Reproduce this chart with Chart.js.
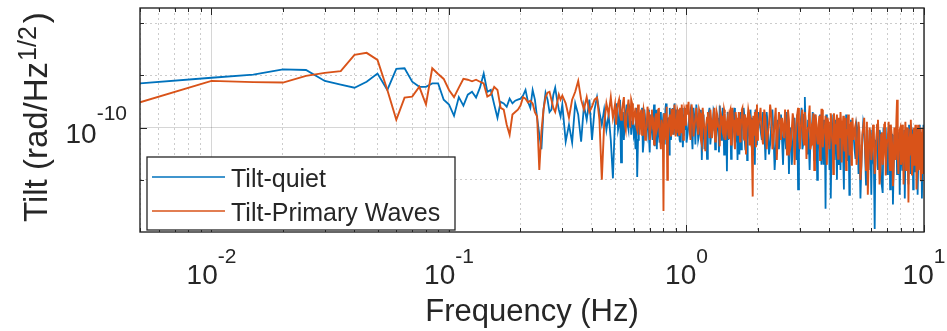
<!DOCTYPE html>
<html>
<head>
<meta charset="utf-8">
<script src="https://cdn.jsdelivr.net/npm/chart.js@4.4.0/dist/chart.umd.min.js"></script>
<style>
  html, body { margin: 0; padding: 0; background: #ffffff; }
  #wrap { width: 947px; height: 331px; position: relative; }
</style>
</head>
<body>
<div id="wrap"><canvas id="c" width="947" height="331"></canvas></div>
<script>
// ---------------- DATA ----------------
const seriesNames = ['Tilt-quiet', 'Tilt-Primary Waves'];
const valueUnit = 1e-12; // series values below are in 1e-12 rad/Hz^(1/2)

// frequency bins (Hz), in bands
const freqLow = [0.005,0.01,0.015,0.02,0.025,0.03,0.035,0.04,0.045,0.05,
  0.055,0.06,0.065,0.07,0.075,0.08,0.085,0.09,0.095,0.1,
  0.105,0.11,0.115,0.12,0.125,0.13,0.135,0.14,0.145,0.15,
  0.155,0.16,0.165,0.17,0.175,0.18,0.185,0.19,0.195,0.2,
  0.205,0.21,0.215,0.22,0.225,0.23,0.235,0.24,0.245,0.25,
  0.255,0.26,0.265,0.27,0.275,0.28,0.285,0.29,0.295,0.3];
const freqMid = [0.31,0.32,0.33,0.34,0.35,0.36,0.37,0.38,0.39,0.40,
  0.41,0.42,0.43,0.44,0.45,0.46,0.47,0.48,0.49,0.50,
  0.51,0.52,0.53,0.54,0.55,0.56,0.57,0.58,0.59,0.60,
  0.61,0.62,0.63,0.64,0.65,0.66,0.67,0.68,0.69,0.70,
  0.71,0.72,0.73,0.74,0.75,0.76,0.77,0.78,0.79,0.80,
  0.81,0.82,0.83,0.84,0.85,0.86,0.87,0.88,0.89,0.90,
  0.91,0.92,0.93,0.94,0.95,0.96,0.97,0.98,0.99,1.00];
const freqMidHalf = [0.505,0.515,0.525,0.535,0.545,0.555,0.565,0.575,0.585,0.595,
  0.605,0.615,0.625,0.635,0.645,0.655,0.665,0.675,0.685,0.695,
  0.705,0.715,0.725,0.735,0.745,0.755,0.765,0.775,0.785,0.795,
  0.805,0.815,0.825,0.835,0.845,0.855,0.865,0.875,0.885,0.895,
  0.905,0.915,0.925,0.935,0.945,0.955,0.965,0.975,0.985,0.995];
const freqOne = [1.02,1.04,1.06,1.08,1.10,1.12,1.14,1.16,1.18,1.20,
  1.22,1.24,1.26,1.28,1.30,1.32,1.34,1.36,1.38,1.40,
  1.42,1.44,1.46,1.48,1.50,1.52,1.54,1.56,1.58,1.60,
  1.62,1.64,1.66,1.68,1.70,1.72,1.74,1.76,1.78,1.80,
  1.82,1.84,1.86,1.88,1.90,1.92,1.94,1.96,1.98,2.00];
const freqOneHalf = [1.01,1.03,1.05,1.07,1.09,1.11,1.13,1.15,1.17,1.19,
  1.21,1.23,1.25,1.27,1.29,1.31,1.33,1.35,1.37,1.39,
  1.41,1.43,1.45,1.47,1.49,1.51,1.53,1.55,1.57,1.59,
  1.61,1.63,1.65,1.67,1.69,1.71,1.73,1.75,1.77,1.79,
  1.81,1.83,1.85,1.87,1.89,1.91,1.93,1.95,1.97,1.99];
const freqTwo = [2.05,2.10,2.15,2.20,2.25,2.30,2.35,2.40,2.45,2.50,
  2.55,2.60,2.65,2.70,2.75,2.80,2.85,2.90,2.95,3.00,
  3.05,3.10,3.15,3.20,3.25,3.30,3.35,3.40,3.45,3.50,
  3.55,3.60,3.65,3.70,3.75,3.80,3.85,3.90,3.95,4.00,
  4.05,4.10,4.15,4.20,4.25,4.30,4.35,4.40,4.45,4.50,
  4.55,4.60,4.65,4.70,4.75,4.80,4.85,4.90,4.95,5.00];
const freqTwoHalf = [2.025,2.075,2.125,2.175,2.225,2.275,2.325,2.375,2.425,2.475,
  2.525,2.575,2.625,2.675,2.725,2.775,2.825,2.875,2.925,2.975,
  3.025,3.075,3.125,3.175,3.225,3.275,3.325,3.375,3.425,3.475,
  3.525,3.575,3.625,3.675,3.725,3.775,3.825,3.875,3.925,3.975,
  4.025,4.075,4.125,4.175,4.225,4.275,4.325,4.375,4.425,4.475,
  4.525,4.575,4.625,4.675,4.725,4.775,4.825,4.875,4.925,4.975];
const freqFive = [5.1,5.2,5.3,5.4,5.5,5.6,5.7,5.8,5.9,6.0,
  6.1,6.2,6.3,6.4,6.5,6.6,6.7,6.8,6.9,7.0,
  7.1,7.2,7.3,7.4,7.5,7.6,7.7,7.8,7.9,8.0,
  8.1,8.2,8.3,8.4,8.5,8.6,8.7,8.8,8.9,9.0,
  9.1,9.2,9.3,9.4,9.5,9.6,9.7,9.8,9.9,10.0];
const freqFiveHalf = [5.05,5.15,5.25,5.35,5.45,5.55,5.65,5.75,5.85,5.95,
  6.05,6.15,6.25,6.35,6.45,6.55,6.65,6.75,6.85,6.95,
  7.05,7.15,7.25,7.35,7.45,7.55,7.65,7.75,7.85,7.95,
  8.05,8.15,8.25,8.35,8.45,8.55,8.65,8.75,8.85,8.95,
  9.05,9.15,9.25,9.35,9.45,9.55,9.65,9.75,9.85,9.95];

// Tilt-quiet
const quietLow = [180,194,202,217,215,186,177,170,184,205,
  165,218,220,184,172,172,180,180,145,136,
  117,150,134,155,161,149,170,205,161,165,
  136,114,141,138,132,147,138,143,145,147,
  153,165,141,130,165,145,114,91,75,127,
  159,145,123,127,155,170,145,127,116,136];
const quietMid = [83,104,82,138,119,83,134,111,145,85,
  127,150,123,104,127,97,119,85,51,111,
  138,104,63,123,116,136,97,127,108,91,
  75,52,119,101,130,82,111,91,127,72,
  104,85,136,111,75,111,82,123,97,121,
  80,138,104,89,130,85,119,101,138,97,
  114,89,127,83,111,130,91,101,123,82];
const quietMidHalf = [127,97,145,108,85,123,104,132,91,119,
  97,130,85,119,104,72,127,97,114,89,
  119,94,111,78,127,101,91,119,85,108,
  101,127,89,114,70,119,97,130,91,111,
  127,97,114,85,123,104,77,119,97,130];
const quietOne = [104,127,75,114,136,85,101,65,119,91,
  66,121,80,104,127,75,97,114,134,85,
  130,70,104,56,85,111,66,97,121,80,
  104,65,119,89,75,111,130,83,100,65,
  119,92,127,77,104,85,61,114,91,123];
const quietOneHalf = [91,119,97,130,80,111,91,127,104,75,
  97,111,130,91,101,123,85,104,72,119,
  97,114,80,101,123,91,117,75,104,130,
  85,111,97,70,123,94,104,119,75,111,
  97,123,85,104,114,70,101,127,80,104];
const quietTwo = [97,123,65,104,80,127,57,97,75,119,
  61,91,123,54,100,75,114,65,44,97,
  130,80,150,85,111,57,94,123,65,104,
  50,91,119,61,85,111,34,80,104,57,
  39,91,119,65,97,50,111,75,57,104,
  80,44,97,119,65,85,41,100,75,91];
const quietTwoHalf = [111,85,101,123,70,104,91,75,111,97,
  85,104,75,111,91,61,104,85,119,70,
  104,75,119,97,70,111,85,101,80,119,
  97,72,104,85,111,61,97,119,80,91,
  104,70,97,85,111,75,94,61,101,87,
  97,61,111,80,91,104,70,87,111,75];
const quietFive = [75,104,54,39,85,101,47,75,97,41,
  65,26,80,57,97,50,42,80,100,54,
  70,44,91,36,75,97,54,80,41,91,
  57,75,39,100,61,47,85,54,97,44,
  75,56,94,41,80,104,50,39,85,61];
const quietFiveHalf = [91,66,97,80,61,108,70,91,57,85,
  97,61,85,104,70,91,50,100,75,61,
  85,104,66,91,57,80,100,70,94,61,
  80,61,97,70,87,57,104,75,61,94,
  66,91,70,100,61,85,75,94,57,104];

// Tilt-Primary Waves
const primaryLow = [140,186,183,182,199,207,212,263,270,246,
  165,111,149,151,172,136,220,204,191,165,
  150,170,191,189,185,189,184,180,151,155,
  172,165,130,127,104,91,119,123,127,134,
  150,147,140,143,138,123,116,57,95,127,
  150,159,161,145,130,123,138,155,145,153];
const primaryMid = [138,114,145,161,186,145,127,150,123,132,
  145,149,111,50,104,138,119,150,114,136,
  127,145,111,138,104,121,145,100,138,114,
  130,97,123,119,91,127,85,101,123,85,
  117,104,80,114,97,127,93,75,104,33,
  85,111,50,101,119,89,127,100,136,89,
  111,123,91,130,94,114,85,127,104,136];
const primaryMidHalf = [104,138,119,127,150,97,130,111,145,104,
  121,101,136,91,127,108,119,97,132,111,
  97,127,108,89,121,101,130,85,111,94,
  121,97,132,80,114,104,127,91,119,101,
  94,127,104,119,97,136,108,91,123,111];
const primaryOne = [141,85,123,100,130,91,121,80,111,73,
  114,97,127,87,119,83,123,101,78,117,
  94,127,85,108,91,123,80,130,104,75,
  114,91,123,83,111,130,87,119,70,104,
  127,80,114,94,40,100,123,77,136,97];
const primaryOneHalf = [119,97,136,89,114,104,127,85,130,97,
  104,123,87,111,97,130,91,117,104,123,
  108,91,121,100,114,87,127,97,111,85,
  123,100,91,117,97,127,104,85,114,94,
  104,121,89,111,60,117,91,104,127,85];
const primaryTwo = [130,80,114,91,136,75,108,65,123,85,
  100,127,70,111,80,121,61,104,130,75,
  114,87,123,66,100,134,80,108,57,119,
  85,104,65,127,77,97,117,61,108,75,
  121,87,54,111,80,119,66,100,123,63,
  104,82,114,57,97,119,70,104,61,114];
const primaryTwoHalf = [111,91,127,75,104,119,85,130,97,111,
  114,87,104,127,75,97,111,85,119,91,
  97,127,80,108,91,117,75,104,121,94,
  104,80,117,91,127,87,100,73,114,97,
  94,111,80,121,91,104,75,114,87,108,
  91,117,73,104,85,111,94,80,108,91];
const primaryFive = [97,61,108,50,91,114,57,41,100,65,
  104,54,85,111,47,91,61,104,53,85,
  108,57,94,46,100,65,145,54,97,61,
  104,47,87,57,100,37,85,111,53,91,
  61,104,44,85,57,100,49,91,54,85];
const primaryFiveHalf = [85,104,70,94,61,100,77,108,66,91,
  75,97,61,104,80,57,94,70,108,73,
  91,65,104,77,57,94,111,70,85,100,
  66,97,75,108,61,91,70,97,80,61,
  100,73,91,57,104,70,87,65,100,75];

// axes
const xRange = [0.005, 10];
const yRange = [2.5e-11, 4.9e-10];
const xLabelTicks = [0.01, 0.1, 1, 10];
const xLabelExponents = ['-2', '-1', '0', '1'];
const yGridTicks = [5e-11, 1e-10, 2e-10, 4e-10];
const yLabelTicks = [1e-10];
const yLabelExponents = ['-10'];
const xTitle = 'Frequency (Hz)';
const yTitleMain = 'Tilt (rad/Hz';
const yTitleSup = '1/2';
const yTitleEnd = ')';

// ---------------- BUILD ----------------
const bands = [
  [freqLow, quietLow, primaryLow],
  [freqMid, quietMid, primaryMid],
  [freqMidHalf, quietMidHalf, primaryMidHalf],
  [freqOne, quietOne, primaryOne],
  [freqOneHalf, quietOneHalf, primaryOneHalf],
  [freqTwo, quietTwo, primaryTwo],
  [freqTwoHalf, quietTwoHalf, primaryTwoHalf],
  [freqFive, quietFive, primaryFive],
  [freqFiveHalf, quietFiveHalf, primaryFiveHalf]
];
function seriesPoints(col) {
  const pts = [];
  bands.forEach(b => b[0].forEach((f, i) => pts.push({ x: f, y: b[col][i] * valueUnit })));
  return pts.sort((p, q) => p.x - q.x);
}

const xGridTicks = [];
for (let d = -3; d <= 1; d++) {
  for (let k = 1; k <= 9; k++) {
    const v = +(k * Math.pow(10, d)).toPrecision(6);
    if (v >= xRange[0] - 1e-12 && v <= xRange[1] + 1e-12) xGridTicks.push(v);
  }
}
const isDecade = v => Math.abs(Math.log10(v) - Math.round(Math.log10(v))) < 1e-6;

const BLUE = '#0072BD', ORANGE = '#D95319', AXC = '#262626';
const FONT = '"Liberation Sans", Arial, Helvetica, sans-serif';

function drawPow(ctx, exp, x, baseline, align, mainSize, supSize, raise) {
  ctx.font = mainSize + 'px ' + FONT;
  const wb = ctx.measureText('10').width;
  ctx.font = supSize + 'px ' + FONT;
  const we = ctx.measureText(exp).width;
  const total = wb + we;
  const start = align === 'center' ? x - total / 2 : x - total;
  ctx.textAlign = 'left';
  ctx.textBaseline = 'alphabetic';
  ctx.font = mainSize + 'px ' + FONT;
  ctx.fillText('10', start, baseline);
  ctx.font = supSize + 'px ' + FONT;
  ctx.fillText(exp, start + wb, baseline - raise);
}

const decor = {
  id: 'decor',
  afterDraw(chart) {
    const { ctx, chartArea: a, scales: { x, y } } = chart;
    ctx.save();
    ctx.strokeStyle = AXC;
    ctx.lineWidth = 1;
    const seg = (x1, y1, x2, y2) => { ctx.beginPath(); ctx.moveTo(x1, y1); ctx.lineTo(x2, y2); ctx.stroke(); };
    // tick marks, inside, all four sides
    xGridTicks.forEach(v => {
      const px = Math.round(x.getPixelForValue(v)) + 0.5;
      const len = isDecade(v) ? 7 : 4;
      seg(px, a.top, px, a.top + len);
      seg(px, a.bottom, px, a.bottom - len);
    });
    yGridTicks.forEach(v => {
      const py = Math.round(y.getPixelForValue(v)) + 0.5;
      const len = isDecade(v) ? 7 : 4;
      seg(a.left, py, a.left + len, py);
      seg(a.right, py, a.right - len, py);
    });
    // frame
    ctx.lineWidth = 1.4;
    ctx.strokeRect(a.left, a.top, a.right - a.left, a.bottom - a.top);

    ctx.fillStyle = AXC;
    // x tick labels
    xLabelTicks.forEach((v, i) => {
      drawPow(ctx, xLabelExponents[i], x.getPixelForValue(v), a.bottom + 52, 'center', 28, 21, 21);
    });
    // y tick labels
    yLabelTicks.forEach((v, i) => {
      drawPow(ctx, yLabelExponents[i], a.left - 13, y.getPixelForValue(v) + 15, 'right', 28, 21, 23);
    });
    // x title
    ctx.font = '31px ' + FONT;
    ctx.textAlign = 'center';
    ctx.textBaseline = 'alphabetic';
    ctx.fillText(xTitle, (a.left + a.right) / 2, a.bottom + 89);
    // y title (rotated)
    ctx.save();
    ctx.translate(47, a.bottom - 10);
    ctx.rotate(-Math.PI / 2);
    ctx.textAlign = 'left';
    ctx.font = '33px ' + FONT;
    ctx.fillText(yTitleMain, 0, 0);
    const w1 = ctx.measureText(yTitleMain).width;
    ctx.font = '25px ' + FONT;
    ctx.fillText(yTitleSup, w1 + 1, -11);
    const w2 = ctx.measureText(yTitleSup).width;
    ctx.font = '33px ' + FONT;
    ctx.fillText(yTitleEnd, w1 + w2 + 4, 0);
    ctx.restore();

    // legend
    const lx = a.left + 7, ly = a.bottom - 75, lw = 308, lh = 73;
    ctx.fillStyle = '#ffffff';
    ctx.fillRect(lx, ly, lw, lh);
    ctx.lineWidth = 1.3;
    ctx.strokeStyle = AXC;
    ctx.strokeRect(lx, ly, lw, lh);
    const rows = [[seriesNames[0], BLUE, ly + 20], [seriesNames[1], ORANGE, ly + 54]];
    rows.forEach(([name, col, ry]) => {
      ctx.strokeStyle = col;
      ctx.lineWidth = 1.6;
      seg(lx + 5, ry, lx + 78, ry);
      ctx.fillStyle = AXC;
      ctx.font = '25px ' + FONT;
      ctx.textAlign = 'left';
      ctx.textBaseline = 'alphabetic';
      ctx.fillText(name, lx + 84, ry + 10);
    });
    ctx.restore();
  }
};

new Chart(document.getElementById('c'), {
  type: 'line',
  data: {
    datasets: [
      { label: seriesNames[0], data: seriesPoints(1), borderColor: BLUE, borderWidth: 1.8,
        pointRadius: 0, tension: 0, fill: false, order: 1 },
      { label: seriesNames[1], data: seriesPoints(2), borderColor: ORANGE, borderWidth: 1.9,
        pointRadius: 0, tension: 0, fill: false, order: 0 }
    ]
  },
  options: {
    responsive: false,
    animation: false,
    devicePixelRatio: 1,
    layout: { padding: { left: 140, top: 8, right: 23, bottom: 99 } },
    plugins: { legend: { display: false }, tooltip: { enabled: false } },
    scales: {
      x: {
        type: 'logarithmic', min: xRange[0], max: xRange[1],
        afterBuildTicks: s => { s.ticks = xGridTicks.map(v => ({ value: v })); },
        ticks: { display: false },
        grid: { drawTicks: false, lineWidth: 1,
          color: c => (c.tick && isDecade(c.tick.value)) ? 'rgba(0,0,0,0.16)' : 'rgba(0,0,0,0.2)' },
        border: { display: false, dash: c => (c.tick && !isDecade(c.tick.value)) ? [2, 3] : [] }
      },
      y: {
        type: 'logarithmic', min: yRange[0], max: yRange[1],
        afterBuildTicks: s => { s.ticks = yGridTicks.map(v => ({ value: v })); },
        ticks: { display: false },
        grid: { drawTicks: false, lineWidth: 1,
          color: c => (c.tick && isDecade(c.tick.value)) ? 'rgba(0,0,0,0.16)' : 'rgba(0,0,0,0.2)' },
        border: { display: false, dash: c => (c.tick && !isDecade(c.tick.value)) ? [2, 3] : [] }
      }
    }
  },
  plugins: [decor]
});
</script>
</body>
</html>
